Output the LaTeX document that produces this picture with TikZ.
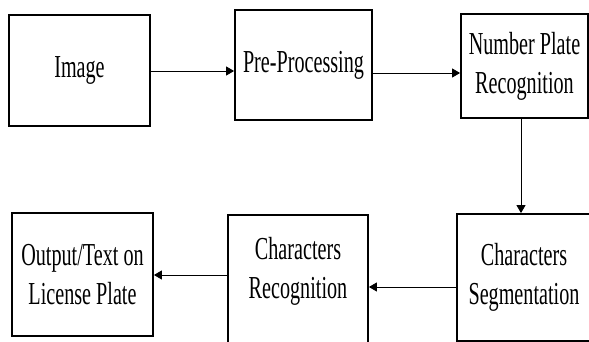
\documentclass[tikz,border=0pt]{standalone}
\usepackage{fontspec}
\setmainfont{Liberation Serif}[FakeStretch=0.63]
\usetikzlibrary{arrows.meta, positioning}

\begin{document}
\begin{tikzpicture}[x=1pt, y=-1pt,
    bloc/.style={draw, line width=1.8pt, align=center, inner sep=0pt,
        font=\fontsize{32}{39}\selectfont},
    texte/.style={align=center, inner sep=0pt, font=\fontsize{32}{39}\selectfont},
    fleche/.style={line width=0.9pt, -{Triangle[length=8pt, width=9pt]}}]
            % Le cadre
            \useasboundingbox (0,0) rectangle (589,342);
            \clip (0,0) rectangle (589,342);
            % Les blocs
            \node[bloc, minimum width=141, minimum height=111] (img) at (79.5,70.5) {Image};
            \node[bloc, minimum width=137, minimum height=110] (pre) at (303.5,65) {Pre-Processing};
            \node[bloc, minimum width=127, minimum height=104] (npr) at (524.5,66) {Number Plate\\Recognition};
            \node[bloc, minimum width=134, minimum height=127] (cseg) at (524,277.5) {Characters\\Segmentation};
            \node[bloc, minimum width=140, minimum height=140, anchor=north] (crec) at (298,214) {};
            \node[texte] (crectxt) at (298,271) {Characters\\Recognition};
            \node[bloc, minimum width=141, minimum height=123] (out) at (82.5,274.5) {Output/Text on\\License Plate};
            % Les fleches
            \draw[fleche] (img.east |- 0,71) -- (pre.west |- 0,71);
            \draw[fleche] (pre.east |- 0,73) -- (npr.west |- 0,73);
            \draw[fleche] (npr.south -| 521,0) -- (cseg.north -| 521,0);
            \draw[fleche] (cseg.west |- 0,287) -- (crec.east |- 0,287);
            \draw[fleche] (crec.west |- 0,275) -- (out.east |- 0,275);
        \end{tikzpicture}
\end{document}
